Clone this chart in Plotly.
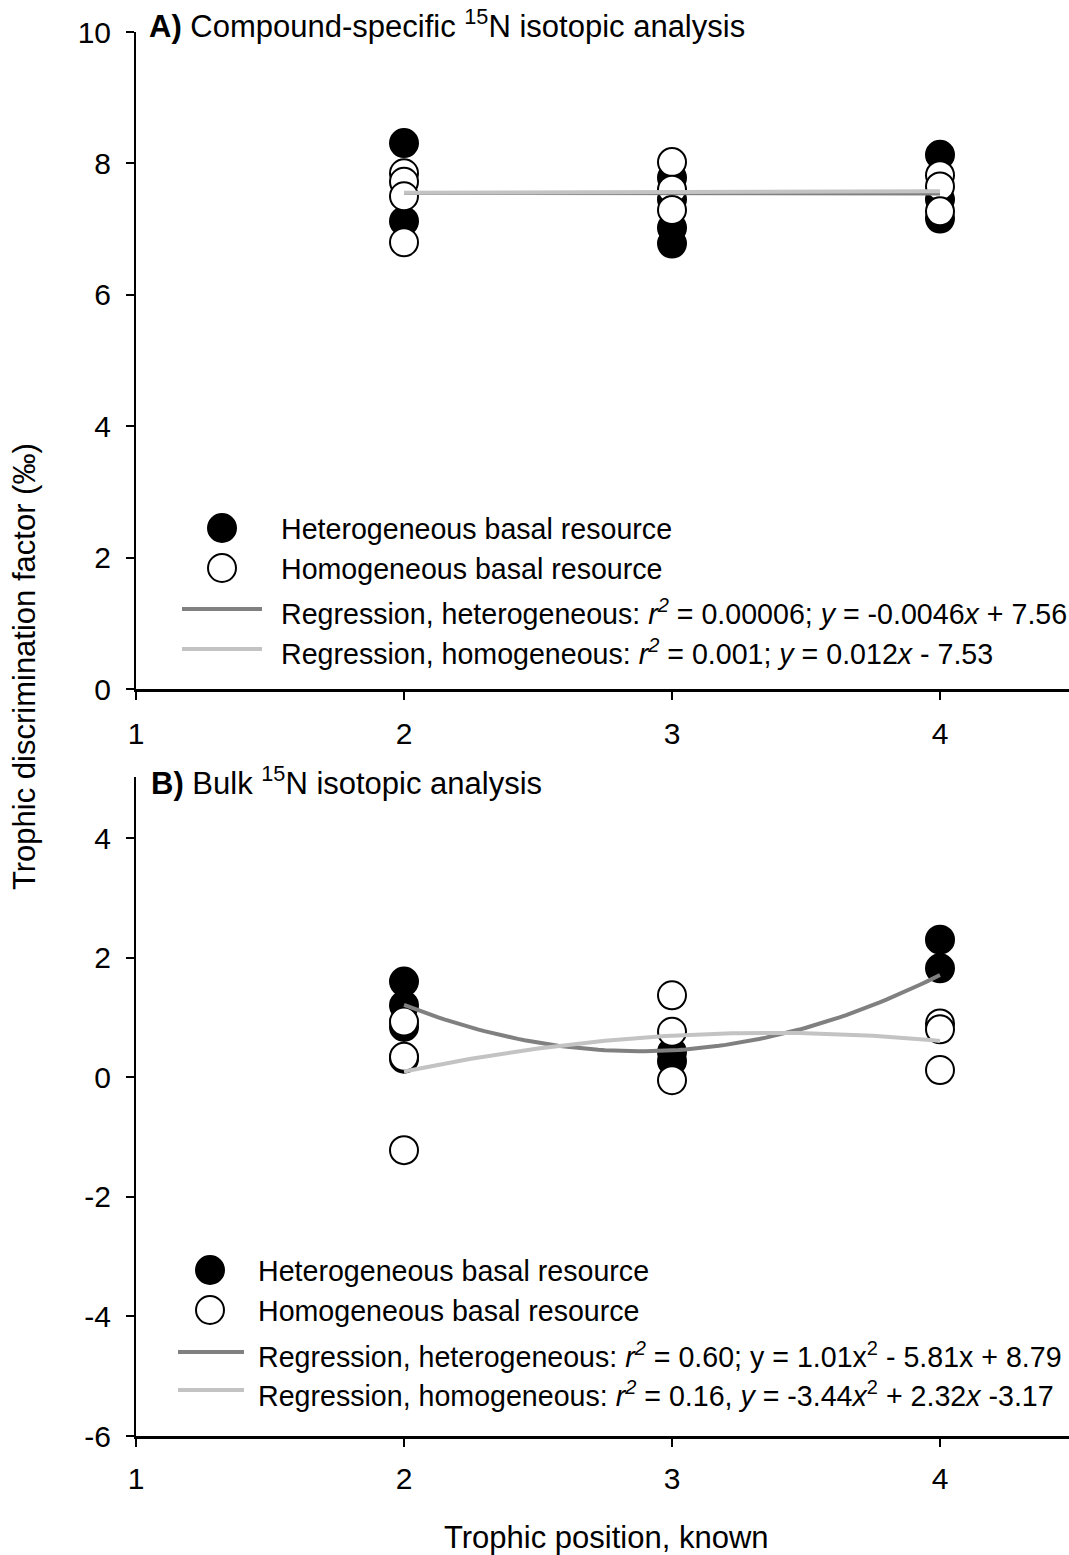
import numpy as np
import plotly.graph_objects as go

# ---------------- data ----------------
# Panel A: compound-specific 15N
a_het_x = [2, 2, 3, 3, 3, 3, 4, 4, 4]
a_het_y = [8.31, 7.12, 7.78, 7.45, 7.02, 6.78, 8.13, 7.45, 7.16]
a_hom_x = [2, 2, 2, 2, 3, 3, 3, 4, 4, 4]
a_hom_y = [7.85, 7.72, 7.50, 6.80, 8.02, 7.60, 7.29, 7.82, 7.65, 7.27]
a_het_coef = [-0.0046, 7.56]      # linear regression, heterogeneous
a_hom_coef = [0.012, 7.53]        # linear regression, homogeneous

# Panel B: bulk 15N
b_het_x = [2, 2, 2, 2, 3, 3, 4, 4]
b_het_y = [1.60, 1.20, 0.84, 0.31, 0.42, 0.27, 2.30, 1.82]
b_hom_x = [2, 2, 2, 3, 3, 3, 4, 4, 4]
b_hom_y = [0.93, 0.34, -1.22, 1.37, 0.76, -0.05, 0.90, 0.80, 0.12]
b_het_coef = [1.01, -5.81, 8.79]   # quadratic regression, heterogeneous
b_hom_coef = [-0.344, 2.32, -3.17]  # quadratic regression, homogeneous

x_ticks = [1, 2, 3, 4]
a_y_ticks = [0, 2, 4, 6, 8, 10]
b_y_ticks = [-6, -4, -2, 0, 2, 4]
b_y_tick_labels = ["-6", "-4", "-2", "0", "2", "4"]

legend_labels_a = [
    "Heterogeneous basal resource",
    "Homogeneous basal resource",
    "Regression, heterogeneous: <i>r</i><sup><i>2</i></sup> = 0.00006; <i>y</i> = -0.0046<i>x</i> + 7.56",
    "Regression, homogeneous: <i>r</i><sup><i>2</i></sup> = 0.001; <i>y</i> = 0.012<i>x</i> - 7.53",
]
legend_labels_b = [
    "Heterogeneous basal resource",
    "Homogeneous basal resource",
    "Regression, heterogeneous: <i>r</i><sup><i>2</i></sup> = 0.60; y = 1.01x<sup>2</sup> - 5.81x + 8.79",
    "Regression, homogeneous: <i>r</i><sup><i>2</i></sup> = 0.16, <i>y</i> = -3.44<i>x</i><sup>2</sup> + 2.32<i>x</i> -3.17",
]

# ---------------- layout helpers ----------------
W, H = 1069, 1555
ML = 136
FONT = "Liberation Sans, Arial, sans-serif"
DARK = "#808080"
LIGHT = "#c3c3c3"


def px(xp):
    return (xp - ML) / (W - ML)


def py(yp):
    return (H - yp) / H


fig = go.Figure()

mk_black = dict(size=28, color="black", line=dict(color="black", width=2))
mk_white = dict(size=28, color="white", line=dict(color="black", width=2))

# Panel A
fig.add_trace(go.Scatter(x=a_het_x, y=a_het_y, mode="markers", marker=mk_black,
                         xaxis="x", yaxis="y", showlegend=False))
fig.add_trace(go.Scatter(x=a_hom_x, y=a_hom_y, mode="markers", marker=mk_white,
                         xaxis="x", yaxis="y", showlegend=False))
xl = np.array([2.0, 4.0])
fig.add_trace(go.Scatter(x=xl, y=np.polyval(a_het_coef, xl), mode="lines",
                         line=dict(color=DARK, width=4), xaxis="x", yaxis="y", showlegend=False))
fig.add_trace(go.Scatter(x=xl, y=np.polyval(a_hom_coef, xl), mode="lines",
                         line=dict(color=LIGHT, width=4), xaxis="x", yaxis="y", showlegend=False))

# Panel B
fig.add_trace(go.Scatter(x=b_het_x, y=b_het_y, mode="markers", marker=mk_black,
                         xaxis="x2", yaxis="y2", showlegend=False))
fig.add_trace(go.Scatter(x=b_hom_x, y=b_hom_y, mode="markers", marker=mk_white,
                         xaxis="x2", yaxis="y2", showlegend=False))
xc = np.linspace(2, 4, 81)
fig.add_trace(go.Scatter(x=xc, y=np.polyval(b_het_coef, xc), mode="lines",
                         line=dict(color=DARK, width=4), xaxis="x2", yaxis="y2", showlegend=False))
fig.add_trace(go.Scatter(x=xc, y=np.polyval(b_hom_coef, xc), mode="lines",
                         line=dict(color=LIGHT, width=4), xaxis="x2", yaxis="y2", showlegend=False))

axis_common = dict(showline=True, linecolor="black", ticks="outside", automargin=False,
                   ticklen=8, tickwidth=2, tickcolor="black", showgrid=False, zeroline=False,
                   tickfont=dict(family=FONT, size=30, color="black"))

x_range = [1, 1 + (W - ML) / 268.0]

fig.update_layout(
    width=W, height=H,
    margin=dict(l=ML, r=0, t=0, b=0, autoexpand=False),
    paper_bgcolor="white", plot_bgcolor="white",
    showlegend=False,
    xaxis=dict(**axis_common, range=x_range, tickvals=x_ticks, anchor="y",
               domain=[0, 1], ticklabelstandoff=8, linewidth=3),
    yaxis=dict(**axis_common, range=[0, 10], tickvals=a_y_ticks, anchor="x",
               domain=[py(689), py(32)], ticklabelstandoff=9, linewidth=2),
    xaxis2=dict(**axis_common, range=x_range, tickvals=x_ticks, anchor="y2",
                domain=[0, 1], ticklabelstandoff=6, linewidth=3),
    yaxis2=dict(**axis_common, range=[-6, 5.02], tickvals=b_y_ticks, ticktext=b_y_tick_labels,
                anchor="x2", domain=[py(1436), py(777)], ticklabelstandoff=9, linewidth=2),
)

ann = []
# panel titles
ann.append(dict(text="<b>A)</b> Compound-specific <sup>15</sup>N isotopic analysis",
                x=px(147), y=py(24), xref="paper", yref="paper", xanchor="left", yanchor="middle",
                showarrow=False, font=dict(family=FONT, size=31, color="black")))
ann.append(dict(text="<b>B)</b> Bulk <sup>15</sup>N isotopic analysis",
                x=px(149), y=py(781), xref="paper", yref="paper", xanchor="left", yanchor="middle",
                showarrow=False, font=dict(family=FONT, size=31, color="black")))
# axis titles
ann.append(dict(text="Trophic position, known", x=px(606), y=py(1537), xref="paper", yref="paper",
                xanchor="center", yanchor="middle", showarrow=False,
                font=dict(family=FONT, size=31, color="black")))
ann.append(dict(text="Trophic discrimination factor (‰)", x=px(25), y=py(667), xref="paper",
                yref="paper", xanchor="center", yanchor="middle", showarrow=False, textangle=-90,
                font=dict(family=FONT, size=31, color="black")))

shapes = []


def add_legend(labels, mx, mys, lx0, lx1, lys, tx, tys):
    for fill, y in zip(["black", "white"], mys):
        shapes.append(dict(type="circle", xref="paper", yref="paper", xsizemode="pixel",
                           ysizemode="pixel", xanchor=px(mx), yanchor=py(y),
                           x0=-14, x1=14, y0=-14, y1=14, fillcolor=fill,
                           line=dict(color="black", width=2)))
    for col, y in zip([DARK, LIGHT], lys):
        shapes.append(dict(type="line", xref="paper", yref="paper", x0=px(lx0), x1=px(lx1),
                           y0=py(y), y1=py(y), line=dict(color=col, width=4)))
    for lab, y in zip(labels, tys):
        ann.append(dict(text=lab, x=px(tx), y=py(y), xref="paper", yref="paper",
                        xanchor="left", yanchor="middle", showarrow=False,
                        font=dict(family=FONT, size=28.6, color="black")))


add_legend(legend_labels_a, 222, [528, 568], 182, 262, [609, 649], 279, [529, 569, 612, 652])
add_legend(legend_labels_b, 210, [1270, 1310], 178, 244, [1352, 1390], 256, [1271, 1311, 1355, 1394])

fig.update_layout(annotations=ann, shapes=shapes)

fig.write_html("out.html", config={"displayModeBar": False},
               post_script="document.body.style.margin='0';")
